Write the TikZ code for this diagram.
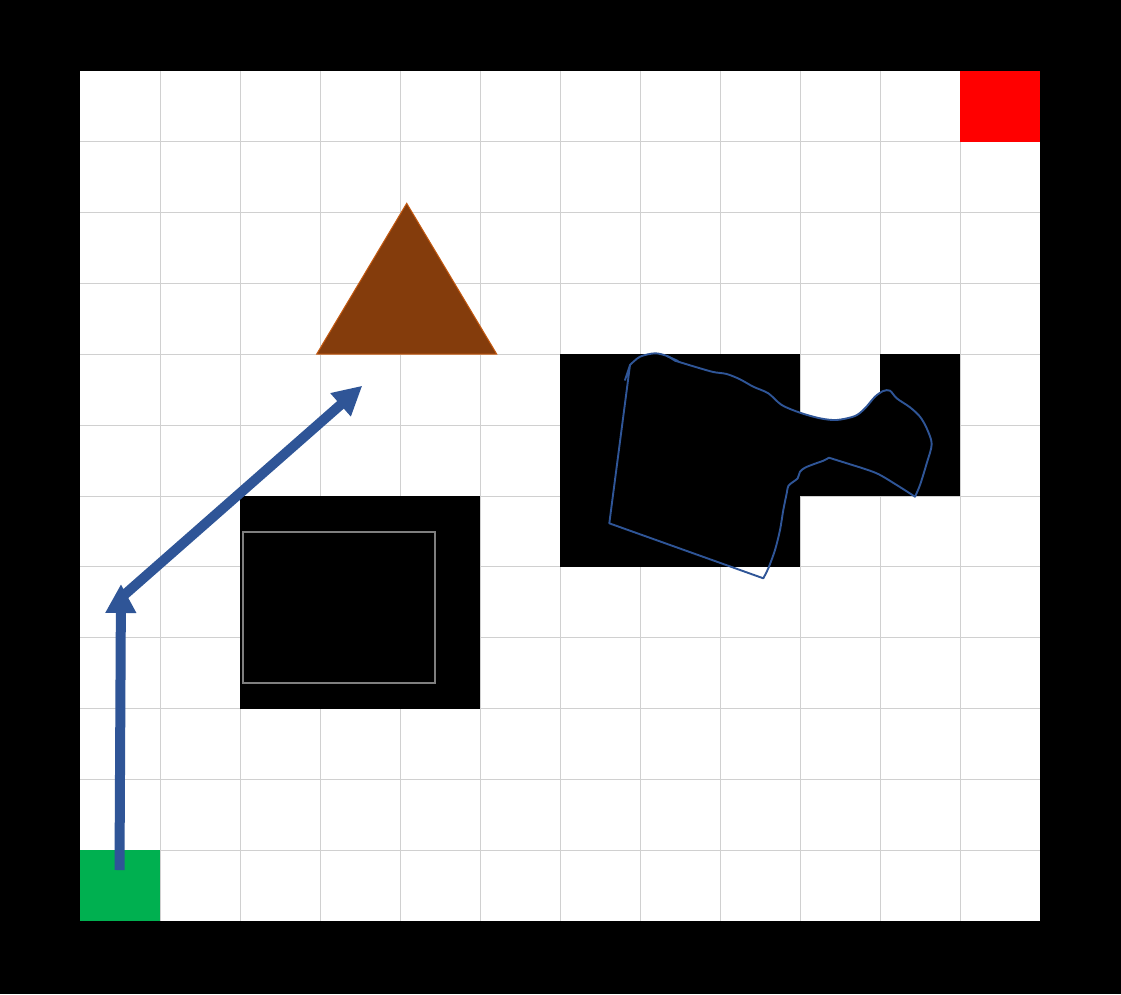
\documentclass[tikz,border=0pt]{standalone}
\usetikzlibrary{arrows.meta}
\definecolor{gridgray}{HTML}{D0D0D0}
\definecolor{arrowblue}{HTML}{2F5597}
\definecolor{brownfill}{HTML}{843C0C}
\definecolor{brownline}{HTML}{C55A11}
\definecolor{startgreen}{HTML}{00B050}
\definecolor{innergray}{HTML}{7F7F7F}
\tikzset{
  gridline/.style={draw=gridgray, line width=1pt},
  obstacle/.style={fill=black},
  pathlink/.style={draw=arrowblue, line width=10pt, -{Triangle[length=29pt,width=29pt]}},
  blobline/.style={draw=arrowblue, line width=1.9pt, line join=round, line cap=round},
}
\newcommand{\blobshape}{(630,365) -- (609.3,523.3) -- (763.3,578.3)
 -- plot[smooth] coordinates {(763.3,578.3) (768.3,568.3) (775,550) (780,530) (783.3,510) (786.7,493.3) (788.3,486) (793.3,481.7) (797.7,478.3) (800,471.7) (805,467.7) (813.3,464.3) (823.3,460.7) (829,457.7)}
 -- (853.3,465.3)
 -- plot[smooth] coordinates {(853.3,465.3) (876.7,473.3) (896.7,485) (915,496.7)}
 -- plot[smooth] coordinates {(915,496.7) (920,485) (926.7,463.3) (931.7,444) (926.7,428.3) (920,416.7) (910,407.3) (896.7,398.3) (890,390.7) (883.3,391) (875,396.7) (865,408.3) (855,416) (836.7,420) (820,418.3) (800,412.7) (781.7,405) (768.3,393.3) (753.3,386.7) (740,379.3) (726.7,374) (713.3,372) (696.7,367.3) (675,360.7)}
 -- plot[smooth] coordinates {(675,360.7) (667,356) (655,353.3) (640,356.7) (630,365)}}
\begin{document}
\begin{tikzpicture}[x=1pt,y=-1pt]
\useasboundingbox (0,0) rectangle (1121,994);
% frame
\fill[black] (0,0) rectangle (1121,994);
\fill[white] (80,71) rectangle (1040,921);
% grid
\foreach \i in {1,...,11} { \draw[gridline] ({80+80*\i},71) -- ({80+80*\i},921); }
\foreach \j in {1,...,11} { \draw[gridline] (80,{71+70.833*\j}) -- (1040,{71+70.833*\j}); }
% goal and start
\fill[red] (960,71) rectangle (1040,141.8);
\fill[startgreen] (80,850.2) rectangle (160,921);
% obstacles
\fill[obstacle] (240,496) rectangle (480,708.5);
\draw[innergray, line width=1.5pt] (243,532) rectangle (435,683);
\fill[obstacle] (560,354.3) rectangle (800,566.8);
\fill[obstacle] (880,354.3) rectangle (960,496);
\fill[obstacle] (800,425.2) rectangle (880,496);
\begin{scope}
  \clip (560,354.3) rectangle (960,566.8);
  \fill[black] \blobshape -- cycle;
\end{scope}
\draw[blobline] \blobshape -- (625,380);
\draw[blobline] (667,356) -- (678,361);
% triangle
\fill[brownfill, draw=brownline, line width=1pt] (406.7,203.3) -- (496.7,354) -- (316.7,354) -- cycle;
% arrows
\coordinate (b0) at (123,596);
\coordinate (b1) at (362.3,385.7);
\coordinate (a0) at (119.5,870);
\coordinate (a1) at (121,584);
\draw[pathlink] (b0) -- (b1);
\draw[pathlink] (a0) -- (a1);
\end{tikzpicture}
\end{document}
